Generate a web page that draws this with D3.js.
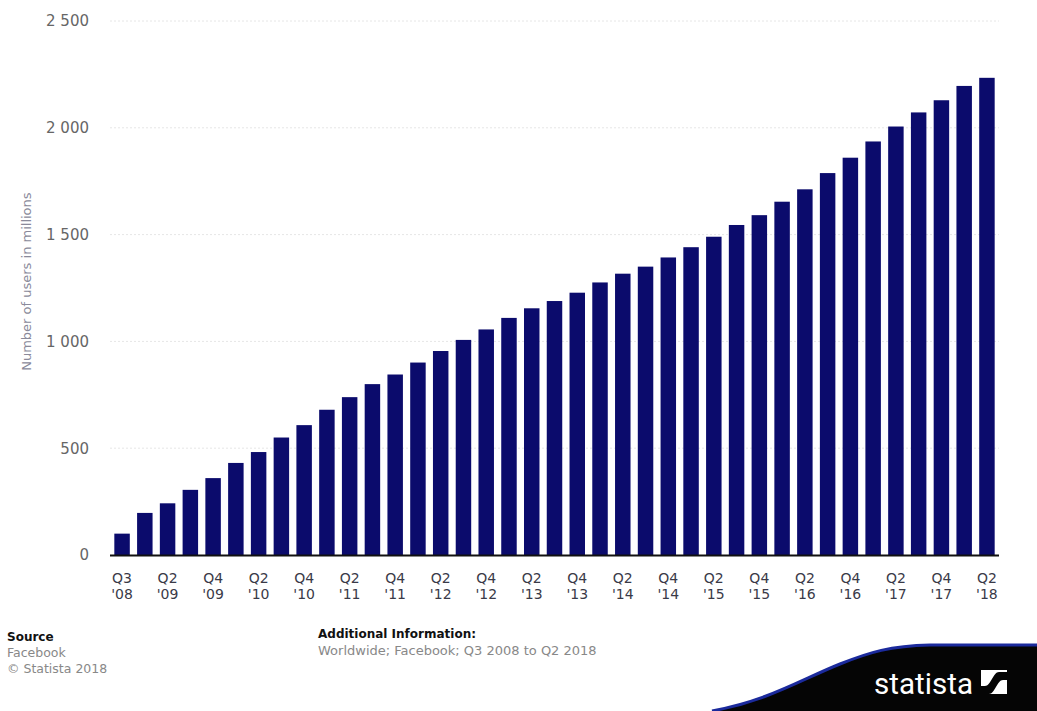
<!DOCTYPE html>
<html>
<head>
<meta charset="utf-8">
<script src="https://cdn.jsdelivr.net/npm/d3@7"></script>
<style>
  html, body { margin: 0; padding: 0; background: #fff; }
  svg { display: block; }
</style>
</head>
<body>
<svg id="chart" width="1037" height="711"></svg>
<script>
// ---- data ----
const categories = [
  "Q3 '08","Q1 '09","Q2 '09","Q3 '09","Q4 '09",
  "Q1 '10","Q2 '10","Q3 '10","Q4 '10",
  "Q1 '11","Q2 '11","Q3 '11","Q4 '11",
  "Q1 '12","Q2 '12","Q3 '12","Q4 '12",
  "Q1 '13","Q2 '13","Q3 '13","Q4 '13",
  "Q1 '14","Q2 '14","Q3 '14","Q4 '14",
  "Q1 '15","Q2 '15","Q3 '15","Q4 '15",
  "Q1 '16","Q2 '16","Q3 '16","Q4 '16",
  "Q1 '17","Q2 '17","Q3 '17","Q4 '17",
  "Q1 '18","Q2 '18"
];
const users = [
  100, 197, 242, 305, 360,
  431, 482, 550, 608,
  680, 739, 800, 845,
  901, 955, 1007, 1056,
  1110, 1155, 1189, 1228,
  1276, 1317, 1350, 1393,
  1441, 1490, 1545, 1591,
  1654, 1712, 1788, 1860,
  1936, 2006, 2072, 2129,
  2196, 2234
];
const yTicks = [0, 500, 1000, 1500, 2000, 2500];
const yTitle = "Number of users in millions";
const sourceLines = ["Source", "Facebook", "© Statista 2018"];
const infoLines = ["Additional Information:", "Worldwide; Facebook; Q3 2008 to Q2 2018"];

// ---- drawing ----
const svg = d3.select("#chart");
const font = "'DejaVu Sans', sans-serif";

const x = d3.scaleBand().domain(categories).range([110, 999]).paddingInner(0.32).paddingOuter(0.19);
const y = d3.scaleLinear().domain([0, 2500]).range([555, 21]);

// gridlines
svg.append("g").selectAll("line").data(yTicks.filter(d => d > 0)).join("line")
  .attr("x1", 110).attr("x2", 999)
  .attr("y1", d => y(d)).attr("y2", d => y(d))
  .attr("stroke", "#e6e6e6").attr("stroke-width", 1)
  .attr("stroke-dasharray", "2,2");

// y axis labels
const yAxis = d3.axisLeft(y).tickValues(yTicks).tickSize(0).tickPadding(0)
  .tickFormat(d => d3.format(",")(d).replace(/,/g, " "));
const gy = svg.append("g").attr("transform", "translate(89,0)").call(yAxis);
gy.select(".domain").remove();
gy.selectAll("text").attr("font-family", font).attr("font-size", 15).attr("fill", "#666");

// y title
svg.append("text")
  .attr("transform", `translate(31,${y(1280)}) rotate(-90)`)
  .attr("text-anchor", "middle")
  .attr("font-family", font).attr("font-size", 13).attr("fill", "#8a8a9a")
  .text(yTitle);

// bars
svg.append("g").selectAll("rect").data(users).join("rect")
  .attr("x", (d, i) => x(categories[i]))
  .attr("width", x.bandwidth())
  .attr("y", d => y(d))
  .attr("height", d => y(0) - y(d))
  .attr("fill", "#0b0b6c");

// baseline
svg.append("line")
  .attr("x1", 110).attr("x2", 999).attr("y1", y(0) + 0.5).attr("y2", y(0) + 0.5)
  .attr("stroke", "#111").attr("stroke-width", 2);

// x labels (every second)
const xAxis = d3.axisBottom(x).tickValues(categories.filter((d, i) => i % 2 === 0)).tickSize(0).tickPadding(0);
const gx = svg.append("g").attr("transform", `translate(0,${y(0)})`).call(xAxis);
gx.select(".domain").remove();
gx.selectAll("text").each(function(d) {
  const parts = d.split(" ");
  const t = d3.select(this).text(null)
    .attr("font-family", font).attr("font-size", 14).attr("fill", "#3a3a48")
    .attr("y", 0).attr("dy", null);
  t.append("tspan").attr("x", 0).attr("y", 27.5).text(parts[0]);
  t.append("tspan").attr("x", 0).attr("y", 44).text(parts[1]);
});

// footer
sourceLines.forEach((s, i) => {
  svg.append("text").attr("x", 7).attr("y", 641 + i * 16)
    .attr("font-family", font).attr("font-size", i === 0 ? 12 : 12.5)
    .attr("font-weight", i === 0 ? "bold" : "normal")
    .attr("fill", i === 0 ? "#111" : "#888")
    .text(s);
});
infoLines.forEach((s, i) => {
  svg.append("text").attr("x", 318).attr("y", 638 + i * 17)
    .attr("font-family", font).attr("font-size", i === 0 ? 12 : 13)
    .attr("font-weight", i === 0 ? "bold" : "normal")
    .attr("fill", i === 0 ? "#111" : "#888")
    .text(s);
});

// statista wave logo
const wave = "M712,711 C770,700 800,680 840,664 C870,652 890,646 930,645 L1037,645";
svg.append("path").attr("d", wave + " L1037,711 Z").attr("fill", "#050505");
svg.append("path").attr("d", wave)
  .attr("fill", "none").attr("stroke", "#1b2a9c").attr("stroke-width", 3);
svg.append("text")
  .attr("x", 874).attr("y", 694)
  .attr("font-family", "'Roboto', 'DejaVu Sans Condensed', sans-serif")
  .attr("font-size", 30).attr("fill", "#fff")
  .attr("textLength", 99).attr("lengthAdjust", "spacingAndGlyphs")
  .text("statista");
svg.append("rect").attr("x", 981).attr("y", 670).attr("width", 26).attr("height", 24).attr("fill", "#fff");
svg.append("path")
  .attr("d", "M981,694 L989,694 C995,694 997,680 1003,680 L1007,680 L1007,672 L999,672 C993,672 991,686 985,686 L981,686 Z")
  .attr("fill", "#050505");
</script>
</body>
</html>
